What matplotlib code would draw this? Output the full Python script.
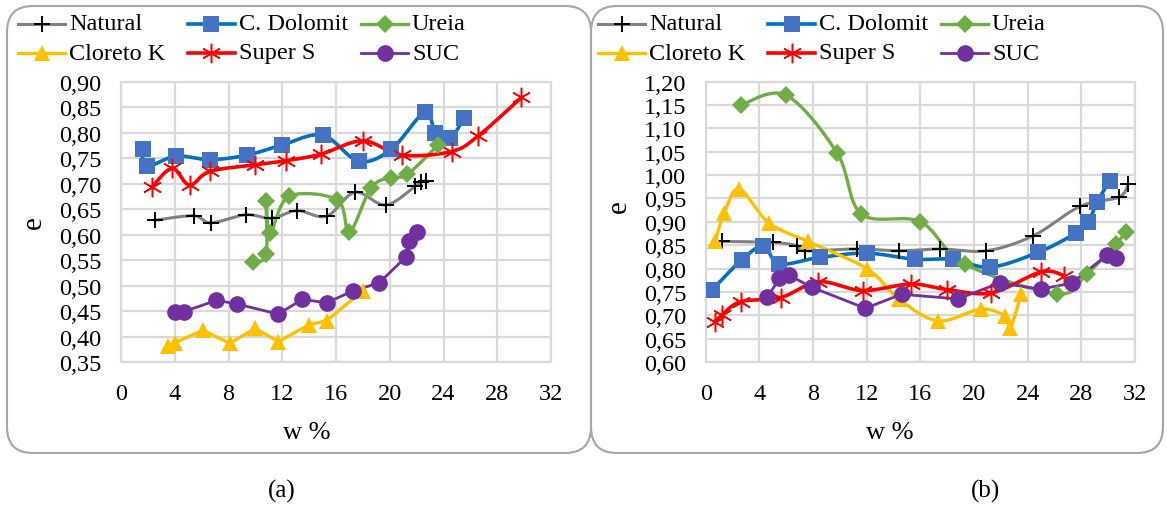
import numpy as np
import matplotlib
matplotlib.use("Agg")
import matplotlib.pyplot as plt
from matplotlib.lines import Line2D
from matplotlib.patches import FancyBboxPatch
from matplotlib.transforms import IdentityTransform
from matplotlib.ticker import FuncFormatter, MultipleLocator

plt.rcParams['font.family'] = ['Liberation Serif', 'DejaVu Serif']

# ---- panel (a) ----
nat_a_w = [2.5, 5.4, 6.7, 9.3, 11.2, 13.1, 15.3, 17.4, 19.7, 21.9, 22.3, 22.7]
nat_a_e = [0.628, 0.637, 0.623, 0.639, 0.632, 0.647, 0.636, 0.683, 0.658, 0.695, 0.703, 0.706]
dol_a_w = [1.6, 1.9, 4.1, 6.6, 9.4, 12.0, 15.0, 17.7, 20.1, 22.6, 23.4, 24.5, 25.5]
dol_a_e = [0.767, 0.734, 0.754, 0.747, 0.756, 0.776, 0.795, 0.744, 0.767, 0.840, 0.800, 0.789, 0.828]
ure_a_w = [9.8, 10.8, 10.8, 11.1, 12.5, 16.1, 17.0, 18.6, 20.1, 21.3, 23.6]
ure_a_e = [0.547, 0.561, 0.665, 0.603, 0.675, 0.668, 0.605, 0.692, 0.712, 0.718, 0.776]
clo_a_w = [3.5, 4.0, 6.1, 8.1, 10.0, 11.7, 14.0, 15.3, 18.0]
clo_a_e = [0.382, 0.388, 0.412, 0.387, 0.416, 0.390, 0.423, 0.431, 0.490]
sup_a_w = [2.3, 3.8, 5.1, 6.6, 10.0, 12.3, 14.9, 18.0, 20.9, 24.6, 26.6, 29.8]
sup_a_e = [0.693, 0.730, 0.697, 0.724, 0.737, 0.745, 0.758, 0.784, 0.756, 0.763, 0.794, 0.869]
suc_a_w = [4.0, 4.7, 7.1, 8.6, 11.7, 13.5, 15.3, 17.3, 19.2, 21.2, 21.4, 22.0]
suc_a_e = [0.448, 0.449, 0.471, 0.464, 0.444, 0.473, 0.466, 0.490, 0.505, 0.556, 0.588, 0.605]

# ---- panel (b) ----
nat_b_w = [1.2, 5.0, 6.8, 7.4, 11.3, 14.4, 17.5, 20.9, 24.4, 27.9, 30.8, 31.5]
nat_b_e = [0.858, 0.856, 0.849, 0.838, 0.842, 0.838, 0.842, 0.838, 0.870, 0.933, 0.953, 0.981]
dol_b_w = [0.5, 2.7, 4.3, 5.5, 8.5, 12.0, 15.6, 18.4, 21.2, 24.8, 27.6, 28.5, 29.2, 30.1]
dol_b_e = [0.755, 0.819, 0.848, 0.810, 0.824, 0.833, 0.820, 0.820, 0.803, 0.835, 0.876, 0.900, 0.943, 0.988]
ure_b_w = [2.6, 6.0, 9.8, 11.6, 16.0, 19.3, 26.2, 28.4, 30.6, 31.3]
ure_b_e = [1.150, 1.171, 1.047, 0.917, 0.900, 0.810, 0.746, 0.788, 0.853, 0.879]
clo_b_w = [0.7, 1.4, 2.5, 4.7, 7.6, 12.0, 14.4, 17.3, 20.5, 22.3, 22.7, 23.5]
clo_b_e = [0.858, 0.920, 0.970, 0.898, 0.858, 0.800, 0.735, 0.688, 0.713, 0.698, 0.672, 0.745]
sup_b_w = [0.7, 1.2, 2.6, 5.6, 8.4, 11.7, 15.3, 18.0, 21.3, 25.0, 26.7]
sup_b_e = [0.685, 0.700, 0.729, 0.738, 0.772, 0.753, 0.767, 0.755, 0.748, 0.793, 0.785]
suc_b_w = [4.6, 5.5, 6.2, 7.9, 11.9, 14.6, 18.8, 21.9, 25.0, 27.3, 29.9, 30.6]
suc_b_e = [0.739, 0.779, 0.786, 0.760, 0.715, 0.745, 0.735, 0.769, 0.756, 0.769, 0.829, 0.822]

labels = ["Natural", "C. Dolomit", "Ureia", "Cloreto K", "Super S", "SUC"]

W, H = 1167, 506


def smooth(x, y, n=20):
    # Excel-like smoothed line (Catmull-Rom through the points)
    p = np.column_stack([x, y]).astype(float)
    if len(p) < 3:
        return p[:, 0], p[:, 1]
    ext = np.vstack([p[0], p, p[-1]])
    out = []
    t = np.linspace(0, 1, n, endpoint=False)[:, None]
    for i in range(1, len(ext) - 2):
        p0, p1, p2, p3 = ext[i - 1], ext[i], ext[i + 1], ext[i + 2]
        c1 = p1 + (p2 - p0) / 6
        c2 = p2 - (p3 - p1) / 6
        seg = ((1 - t) ** 3) * p1 + 3 * ((1 - t) ** 2) * t * c1 + 3 * (1 - t) * t ** 2 * c2 + t ** 3 * p2
        out.append(seg)
    out.append(p[-1][None, :])
    out = np.vstack(out)
    return out[:, 0], out[:, 1]


styles = [
    dict(lc="#808080", mc="black", m="+", ms=11, lw=2.2, mew=1.4),
    dict(lc="#0070C0", mc="#4472C4", m="s", ms=12, lw=2.6, mew=0),
    dict(lc="#70AD47", mc="#70AD47", m="D", ms=9, lw=2.4, mew=0),
    dict(lc="#FFC000", mc="#FFC000", m="^", ms=12, lw=2.4, mew=0),
    dict(lc="#FF0000", mc="#FF0000", m=(6, 2, 0), ms=14, lw=2.6, mew=1.1),
    dict(lc="#7030A0", mc="#7030A0", m="o", ms=12, lw=2.0, mew=0),
]


def draw_panel(ax, data, smoothed, ylim, xlab_x, ylab_y):
    for (w, e), st, sm in zip(data, styles, smoothed):
        xs, ys = smooth(w, e) if sm else (w, e)
        ax.plot(xs, ys, color=st["lc"], lw=st["lw"], zorder=2, solid_capstyle="round")
        ax.plot(w, e, ls="none", marker=st["m"], ms=st["ms"], color=st["mc"],
                mec=st["mc"], mew=st["mew"], zorder=3)
    ax.set_xlim(0, 32)
    ax.set_ylim(*ylim)
    ax.xaxis.set_major_locator(MultipleLocator(4))
    ax.yaxis.set_major_locator(MultipleLocator(0.05))
    ax.yaxis.set_major_formatter(FuncFormatter(lambda v, p: f"{v:.2f}".replace(".", ",")))
    ax.grid(True, color="#d9d9d9", lw=1.6)
    ax.set_axisbelow(True)
    for s in ax.spines.values():
        s.set_color("#d9d9d9")
        s.set_linewidth(1.6)
    ax.tick_params(length=0, labelsize=17.5)
    ax.tick_params(axis="x", pad=15)
    ax.tick_params(axis="y", pad=14)
    ax.set_xlabel("w %", fontsize=19)
    ax.xaxis.set_label_coords(xlab_x, -0.212)
    ax.set_ylabel("e", fontsize=21)
    ax.yaxis.set_label_coords(-0.172, ylab_y)


def draw_legend(fig, x_off):
    # Excel-style legend: 3 columns x 2 rows, positions in pixels
    cols = [18, 188, 361]
    rows = [25, 54]
    for k, st in enumerate(styles):
        r, c = k // 3, k % 3
        x0 = cols[c] + x_off
        y = 1 - rows[r] / H
        fig.add_artist(Line2D([x0 / W, (x0 + 47) / W], [y, y], transform=fig.transFigure,
                              color=st["lc"], lw=st["lw"]))
        fig.add_artist(Line2D([(x0 + 23.5) / W], [y], transform=fig.transFigure, ls="none",
                              marker=st["m"], ms=st["ms"], color=st["mc"], mec=st["mc"],
                              mew=st["mew"]))
        fig.text((x0 + 51) / W, y, labels[k], fontsize=17.5, va="center", ha="left")


fig = plt.figure(figsize=(W / 100, H / 100), dpi=100)

# rounded frames around each panel
for x0, w in [(7, 584), (591, 572)]:
    fig.patches.append(FancyBboxPatch((x0, 52), w, 447, boxstyle="round,pad=0,rounding_size=26",
                                      transform=IdentityTransform(), fill=False,
                                      ec="#a6a6a6", lw=1.5, figure=fig))

ax1 = fig.add_axes([121 / W, 1 - 363 / H, 430 / W, 280.3 / H])
ax2 = fig.add_axes([705.7 / W, 1 - 363 / H, 429.3 / W, 280.3 / H])

data_a = [(nat_a_w, nat_a_e), (dol_a_w, dol_a_e), (ure_a_w, ure_a_e),
          (clo_a_w, clo_a_e), (sup_a_w, sup_a_e), (suc_a_w, suc_a_e)]
data_b = [(nat_b_w, nat_b_e), (dol_b_w, dol_b_e), (ure_b_w, ure_b_e),
          (clo_b_w, clo_b_e), (sup_b_w, sup_b_e), (suc_b_w, suc_b_e)]

draw_panel(ax1, data_a, [True, True, True, False, True, False], (0.35, 0.90), 0.433, 0.5)
draw_panel(ax2, data_b, [True, True, True, True, True, False], (0.60, 1.20), 0.429, 0.557)

draw_legend(fig, 0)
draw_legend(fig, 580)

fig.text(282 / W, 1 - 491 / H, "(a)", fontsize=18, ha="center", va="center")
fig.text(985 / W, 1 - 491 / H, "(b)", fontsize=18, ha="center", va="center")

fig.savefig("out.png", dpi=100)
